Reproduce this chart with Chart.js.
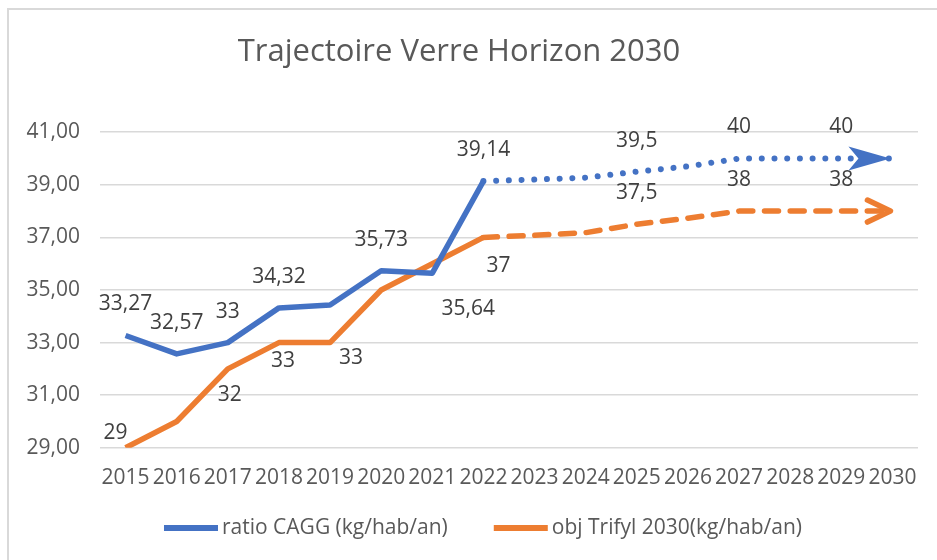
<!DOCTYPE html>
<html>
<head>
<meta charset="utf-8">
<script src="https://cdn.jsdelivr.net/npm/chart.js@4.4.0/dist/chart.umd.min.js"></script>
<style>
  html, body { margin: 0; padding: 0; background: #fff; }
  #wrap { width: 937px; height: 560px; }
</style>
</head>
<body>
<div id="wrap"><canvas id="lineChart" width="937" height="560"></canvas></div>
<script>
// données
const years = ["2015", "2016", "2017", "2018", "2019", "2020", "2021", "2022",
  "2023", "2024", "2025", "2026", "2027", "2028", "2029", "2030"];
const ratioCagg = [33.27, 32.57, 33, 34.32, 34.43, 35.73, 35.64, 39.14,
  39.2, 39.27, 39.5, 39.7, 40, 40, 40, 40];
const objTrifyl = [29, 30, 32, 33, 33, 35, 36, 37,
  37.08, 37.18, 37.5, 37.73, 38, 38, 38, 38];
const yMin = 29, yMax = 41, yStep = 2;
const lastActual = 7; // 2022 : après, projection

// étiquettes affichées (index) et décalages
const ratioLabelIdx = [0, 1, 2, 3, 5, 6, 7, 10, 12, 14];
const objLabelIdx = [0, 2, 3, 4, 7, 10, 12, 14];
const ratioLabelShift = { 6: [36, 36] };
const objLabelShift = { 0: [-10, -15], 2: [2, 26], 3: [4, 18], 4: [21, 15], 7: [15, 29] };

const blue = "#4472C4";
const orange = "#ED7D31";
const font = "'Open Sans'";
const fmt = v => String(v).replace(".", ",");

const borderPlugin = {
  id: "chartBorder",
  beforeDraw(chart) {
    const ctx = chart.ctx;
    ctx.save();
    ctx.strokeStyle = "#d9d9d9";
    ctx.lineWidth = 2;
    ctx.strokeRect(8, 9, 940, 560);
    ctx.restore();
  }
};

const labelPlugin = {
  id: "valueLabels",
  afterDatasetsDraw(chart) {
    const ctx = chart.ctx;
    ctx.save();
    ctx.font = "21px " + font;
    ctx.fillStyle = "#404040";
    ctx.textAlign = "center";
    ctx.textBaseline = "middle";
    chart.data.datasets.forEach((ds, i) => {
      const pts = chart.getDatasetMeta(i).data;
      ds.labelIdx.forEach(k => {
        const s = ds.labelShift[k] || [0, -31];
        ctx.fillText(fmt(ds.data[k]), pts[k].x + s[0], pts[k].y + s[1]);
      });
    });
    ctx.restore();
  }
};

const arrowPlugin = {
  id: "arrowHeads",
  afterDatasetsDraw(chart) {
    const ctx = chart.ctx;
    chart.data.datasets.forEach((ds, i) => {
      const pts = chart.getDatasetMeta(i).data;
      const a = pts[pts.length - 2], b = pts[pts.length - 1];
      const ang = Math.atan2(b.y - a.y, b.x - a.x);
      ctx.save();
      ctx.translate(b.x - 2, b.y);
      ctx.rotate(ang);
      if (ds.arrow === "stealth") {
        ctx.fillStyle = ds.borderColor;
        ctx.beginPath();
        ctx.moveTo(0, 0);
        ctx.lineTo(-42, -12);
        ctx.lineTo(-32, 0);
        ctx.lineTo(-42, 12);
        ctx.closePath();
        ctx.fill();
      } else {
        ctx.strokeStyle = ds.borderColor;
        ctx.lineWidth = 5.5;
        ctx.lineCap = "round";
        ctx.lineJoin = "round";
        ctx.beginPath();
        ctx.moveTo(-23, -11);
        ctx.lineTo(0, 0);
        ctx.lineTo(-23, 11);
        ctx.stroke();
      }
      ctx.restore();
    });
  }
};

// légende dessinée à la main (trait épais + texte)
const legendPlugin = {
  id: "bottomLegend",
  afterDraw(chart) {
    const ctx = chart.ctx;
    const sw = 54, gap = 4, itemGap = 46, y = 528;
    ctx.save();
    ctx.font = "21px " + font;
    ctx.textBaseline = "middle";
    const items = chart.data.datasets.map(ds => ({ ds, w: ctx.measureText(ds.label).width }));
    const total = items.reduce((s, it) => s + sw + gap + it.w, 0) + itemGap * (items.length - 1);
    let x = 483 - total / 2;
    items.forEach(it => {
      ctx.fillStyle = it.ds.borderColor;
      ctx.fillRect(x, y - 3, sw, 6);
      x += sw + gap;
      ctx.fillStyle = "#595959";
      ctx.fillText(it.ds.label, x, y);
      x += it.w + itemGap;
    });
    ctx.restore();
  }
};

const projected = dash => ctx => ctx.p0DataIndex >= lastActual ? dash : undefined;
const projCap = ctx => ctx.p0DataIndex >= lastActual ? "round" : "butt";

new Chart(document.getElementById("lineChart"), {
  type: "line",
  data: {
    labels: years,
    datasets: [{
      label: "ratio CAGG (kg/hab/an)",
      data: ratioCagg,
      borderColor: blue,
      backgroundColor: blue,
      borderWidth: 5.5,
      pointRadius: 0,
      tension: 0,
      borderJoinStyle: "round",
      segment: {
        borderDash: projected([0.01, 12.7]),
        borderCapStyle: projCap,
        borderWidth: ctx => ctx.p0DataIndex >= lastActual ? 6 : 5.5
      },
      labelIdx: ratioLabelIdx,
      labelShift: ratioLabelShift,
      arrow: "stealth"
    }, {
      label: "obj Trifyl 2030(kg/hab/an)",
      data: objTrifyl,
      borderColor: orange,
      backgroundColor: orange,
      borderWidth: 5.5,
      pointRadius: 0,
      tension: 0,
      borderJoinStyle: "round",
      segment: { borderDash: projected([14, 11.7]), borderCapStyle: projCap },
      labelIdx: objLabelIdx,
      labelShift: objLabelShift,
      arrow: "open"
    }]
  },
  options: {
    responsive: false,
    animation: false,
    layout: { padding: { left: 0, right: 19, top: 0, bottom: 51 } },
    plugins: {
      title: {
        display: true,
        text: "Trajectoire Verre Horizon 2030",
        color: "#595959",
        font: { family: font, size: 31, weight: "normal" },
        padding: { top: 34, bottom: 61 }
      },
      legend: { display: false },
      tooltip: { enabled: false }
    },
    scales: {
      x: {
        offset: true,
        grid: { display: false, drawTicks: false },
        border: { display: false },
        ticks: {
          color: "#595959",
          font: { family: font, size: 21 },
          padding: 18,
          autoSkip: false,
          maxRotation: 0,
          minRotation: 0
        }
      },
      y: {
        min: yMin,
        max: yMax,
        grid: { color: "#d9d9d9", lineWidth: 1.5, drawTicks: false },
        border: { display: false },
        afterFit: s => { s.width = 100; },
        ticks: {
          stepSize: yStep,
          color: "#595959",
          font: { family: font, size: 21 },
          padding: 20,
          callback: v => v.toFixed(2).replace(".", ",")
        }
      }
    }
  },
  plugins: [borderPlugin, labelPlugin, arrowPlugin, legendPlugin]
});
</script>
</body>
</html>
